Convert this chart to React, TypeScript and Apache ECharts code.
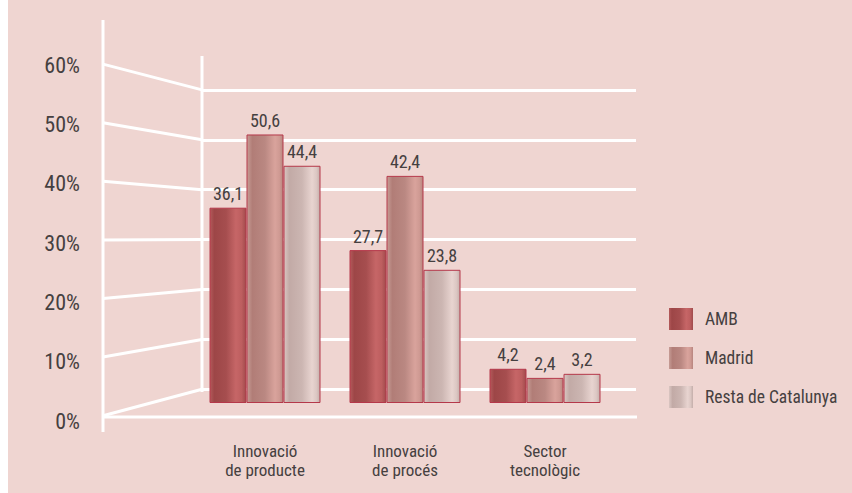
import React, { useEffect, useRef } from "react";
import * as echarts from "echarts";

const categories = ["Innovació\nde producte", "Innovació\nde procés", "Sector\ntecnològic"];
const seriesNames = ["AMB", "Madrid", "Resta de Catalunya"];
const amb = [36.1, 27.7, 4.2];
const madrid = [50.6, 42.4, 2.4];
const resta = [44.4, 23.8, 3.2];
const tickValues = [0, 10, 20, 30, 40, 50, 60];

const FONT = "'Roboto Condensed', 'Liberation Sans Narrow', Roboto, sans-serif";
const WEIGHT = 400;
const TEXT = "#454040";
const BG = "#EFD5D1";

const grad = (stops: [number, string][]) =>
  new echarts.graphic.LinearGradient(0, 0, 1, 0, stops.map(([offset, color]) => ({ offset, color })));

const colors = [
  grad([[0, "#b45a5b"], [0.12, "#9d4647"], [0.45, "#a64e4f"], [0.72, "#c66667"], [0.88, "#bd5e5f"], [1, "#a04b4c"]]),
  grad([[0, "#c69c95"], [0.15, "#b17d77"], [0.5, "#ba8882"], [0.78, "#d9a39c"], [0.9, "#cf9a93"], [1, "#b8857f"]]),
  grad([[0, "#dac6c2"], [0.15, "#c2aaa6"], [0.5, "#ccb6b2"], [0.78, "#e8d4d0"], [0.9, "#dcc7c3"], [1, "#c4aeaa"]]),
];

// wall geometry (perspective decoration)
const leftX = 103;
const backX = 202;
const rightX = 636;
const backZero = 389.3;
const backScale = 4.99;
const leftZero = 415.7;
const leftScale = 5.86;
// bars: value 0 sits at y=390, the floor of the bars at y=403
const barZero = 390;
const barScale = 5.05;
const barFloor = 403;
const barMin = -(barFloor - barZero) / barScale;

export default function App() {
  const ref = useRef<HTMLDivElement>(null);
  useEffect(() => {
    const chart = echarts.init(ref.current!, null, { renderer: "svg" });
    const values = [amb, madrid, resta];
    const wallLines: any[] = [];
    tickValues.forEach((v) => {
      wallLines.push({
        type: "line",
        shape: { x1: leftX, y1: leftZero - v * leftScale, x2: backX, y2: backZero - v * backScale },
        style: { stroke: "#fff", lineWidth: 3 },
        silent: true,
      });
    });
    wallLines.push(
      { type: "line", shape: { x1: leftX, y1: 20, x2: leftX, y2: 432 }, style: { stroke: "#fff", lineWidth: 3 }, silent: true },
      { type: "line", shape: { x1: backX, y1: 56, x2: backX, y2: 392 }, style: { stroke: "#fff", lineWidth: 3 }, silent: true },
      { type: "line", shape: { x1: leftX, y1: 417, x2: rightX + 1, y2: 417 }, style: { stroke: "#fff", lineWidth: 3 }, silent: true }
    );
    chart.setOption({
      animation: false,
      backgroundColor: "transparent",
      textStyle: { fontFamily: FONT, fontWeight: WEIGHT },
      grid: [
        { left: 195, right: 852 - 615, top: barZero - 60 * barScale, bottom: 493 - barFloor },
        { left: backX, right: 852 - rightX, top: backZero - 60 * backScale, bottom: 493 - backZero },
        { left: leftX, right: 852 - backX, top: 65, bottom: 72 },
      ],
      xAxis: [
        {
          type: "category",
          gridIndex: 0,
          data: categories,
          axisLine: { show: false },
          axisTick: { show: false },
          axisLabel: { color: TEXT, fontSize: 17, lineHeight: 19, margin: 38, fontFamily: FONT, fontWeight: WEIGHT },
        },
        { type: "value", gridIndex: 1, show: false },
        { type: "value", gridIndex: 2, show: false },
      ],
      yAxis: [
        { type: "value", gridIndex: 0, min: barMin, max: 60, startValue: barMin, show: false },
        {
          type: "value",
          gridIndex: 1,
          min: 0,
          max: 60,
          interval: 10,
          axisLine: { show: false },
          axisTick: { show: false },
          axisLabel: { show: false },
          splitLine: { show: true, lineStyle: { color: "#fff", width: 3 } },
        },
        {
          type: "value",
          gridIndex: 2,
          min: 0,
          max: 60,
          interval: 10,
          axisLine: { show: false },
          axisTick: { show: false },
          splitLine: { show: false },
          axisLabel: { color: TEXT, fontSize: 22, margin: 23, fontFamily: FONT, fontWeight: WEIGHT, formatter: "{value}%" },
        },
      ],
      legend: {
        orient: "vertical",
        left: 664,
        top: 303,
        itemWidth: 24,
        itemHeight: 22,
        itemGap: 17,
        icon: "rect",
        data: seriesNames,
        itemStyle: { borderWidth: 0 },
        textStyle: { color: TEXT, fontSize: 17.5, fontFamily: FONT, fontWeight: WEIGHT, padding: [0, 0, 0, 7] },
      },
      graphic: wallLines,
      series: seriesNames.map((name, i) => ({
        name,
        type: "bar",
        xAxisIndex: 0,
        yAxisIndex: 0,
        data: values[i],
        barWidth: 37,
        barGap: "0%",
        z: 5,
        itemStyle: { color: colors[i], borderColor: "#b5384a", borderWidth: 1 },
        label: {
          show: true,
          position: "top",
          distance: 5,
          color: TEXT,
          fontSize: 18,
          fontFamily: FONT,
          fontWeight: WEIGHT,
          formatter: (p: any) => String(p.value).replace(".", ","),
        },
      })),
    });
    return () => chart.dispose();
  }, []);
  return (
    <div
      ref={ref}
      style={{
        position: "fixed",
        left: 0,
        top: 0,
        width: 852,
        height: 493,
        background: `linear-gradient(to right, #ffffff 8px, ${BG} 8px)`,
      }}
    />
  );
}
